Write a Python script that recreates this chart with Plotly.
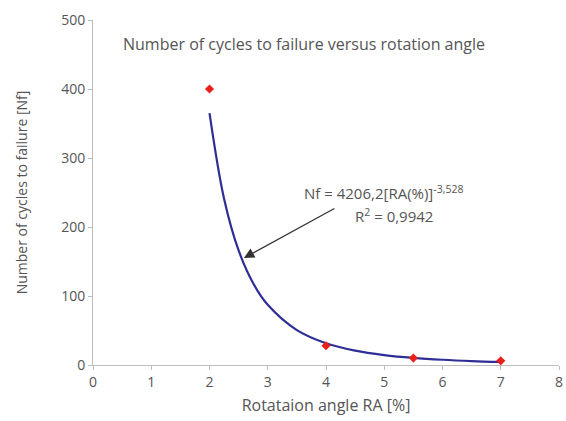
import plotly.graph_objects as go

# measured points
ra_points = [2, 4, 5.5, 7]
nf_points = [400, 28, 10, 6]

# power trend line
ra_trend = [2.0, 2.25, 2.5, 2.75, 3.0, 3.5, 4.0, 4.5, 5.0, 5.5, 6.0, 6.5, 7.0]
nf_trend = [365, 241, 166, 118.5, 87.2, 50.6, 31.6, 20.9, 14.4, 10.3, 7.6, 5.7, 4.4]

x_ticks = [0, 1, 2, 3, 4, 5, 6, 7, 8]
y_ticks = [0, 100, 200, 300, 400, 500]

FONT = "Open Sans"
GREY = "#555555"

fig = go.Figure()
fig.add_trace(go.Scatter(x=ra_trend, y=nf_trend, mode="lines",
                         line=dict(color="#2E2E96", width=2.2, shape="spline"),
                         hoverinfo="skip", showlegend=False))
fig.add_trace(go.Scatter(x=ra_points, y=nf_points, mode="markers",
                         marker=dict(symbol="diamond", color="#E8201A", size=7),
                         showlegend=False))

fig.add_annotation(x=2.59, y=155, ax=4.17, ay=228, axref="x", ayref="y",
                   xref="x", yref="y", text="", showarrow=True,
                   arrowhead=2, arrowsize=1.6, arrowwidth=1.3, arrowcolor="#333333")
fig.add_annotation(x=4.99, y=250, xref="x", yref="y", showarrow=False,
                   text="Nf = 4206,2[RA(%)]<sup>-3,528</sup>",
                   font=dict(family=FONT, size=15, color=GREY))
fig.add_annotation(x=5.16, y=217, xref="x", yref="y", showarrow=False,
                   text="R<sup>2</sup> = 0,9942",
                   font=dict(family=FONT, size=15, color=GREY))
fig.add_annotation(x=0.453, y=1.0, xref="paper", yref="paper", xanchor="center",
                   yanchor="top", yshift=-11, showarrow=False,
                   text="Number of cycles to failure versus rotation angle",
                   font=dict(family=FONT, size=16, color=GREY))

axis_common = dict(showgrid=False, zeroline=False, showline=True, linecolor="#BDBDBD",
                   linewidth=1, ticks="outside", tickcolor="#BDBDBD", ticklen=4,
                   ticklabeloverflow="allow",
                   tickfont=dict(family=FONT, size=14, color=GREY))
fig.update_xaxes(range=[0, 8], tickvals=x_ticks,
                 title=dict(text="Rotataion angle RA [%]", font=dict(family=FONT, size=16, color=GREY),
                            standoff=10),
                 **axis_common)
fig.update_yaxes(range=[0, 500], tickvals=y_ticks,
                 title=dict(text="Number of cycles to failure [Nf]", font=dict(family=FONT, size=14, color=GREY),
                            standoff=30),
                 **axis_common)

fig.update_layout(width=566, height=421, margin=dict(l=93, r=3, t=20, b=56),
                  paper_bgcolor="white", plot_bgcolor="white",
                  font=dict(family=FONT, color=GREY))
fig.write_html("out.html")
